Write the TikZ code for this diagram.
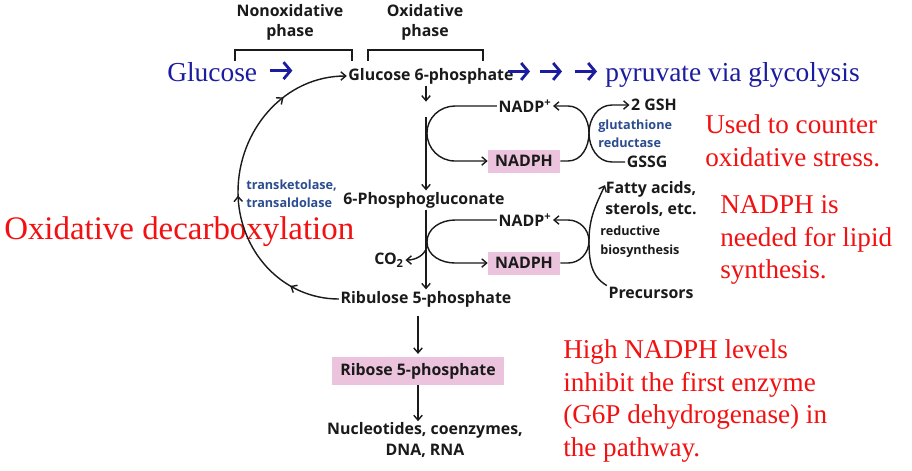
\documentclass[tikz,border=0pt]{standalone}
\usepackage{fontspec}
\setmainfont{Liberation Serif}
\newfontfamily\diagfont{Open Sans}
\usetikzlibrary{arrows.meta, positioning, decorations.markings}
\usepackage{xcolor}
\definecolor{pathblack}{HTML}{1A1A1A}
\definecolor{enzymeblue}{HTML}{2B4C8F}
\definecolor{glycoblue}{HTML}{1C1CA0}
\definecolor{notered}{HTML}{F21010}
\definecolor{boxpink}{HTML}{EBC3DC}

\begin{document}
\begin{tikzpicture}[
    x=0.025cm, y=-0.025cm,
    >={Straight Barb[length=3.5pt,width=6pt]},
    % text styles
    compound/.style={
        font=\diagfont\bfseries\fontsize{11.3}{14.3}\selectfont,
        text=pathblack,
        inner sep=1pt,
        align=center
    },
    cofactor/.style={
        compound,
        fill=boxpink,
        minimum width=1.8cm,
        minimum height=0.575cm
    },
    enzyme/.style={
        font=\diagfont\bfseries\fontsize{9}{12.8}\selectfont,
        text=enzymeblue,
        align=left,
        inner sep=0pt
    },
    note/.style={
        font=\fontsize{19.3}{23.2}\selectfont,
        text=notered,
        align=left,
        inner sep=0pt
    },
    glyco/.style={
        font=\fontsize{19.5}{23.5}\selectfont,
        text=glycoblue,
        inner sep=0pt
    },
    glyarrow/.style={
        draw=glycoblue,
        line width=2pt,
        -{Straight Barb[length=5pt,width=12pt,line width=2pt]}
    },
    flow/.style={draw=pathblack, line width=1pt, ->},
    bracket/.style={draw=pathblack, line width=1.1pt}
]
    \useasboundingbox[fill=white] (0,0) rectangle (912,470);

    % ==========================================
    % 1. PHASES AND ENTRY
    % ==========================================
    \node[compound] (nonox) at (290,22) {Nonoxidative\\phase};
    \node[compound] (oxid) at (425,22) {Oxidative\\phase};
    \draw[bracket] (235,61) -- (235,50) -- (352,50) -- (352,61);
    \draw[bracket] (368,61) -- (368,50) -- (483,50) -- (483,61);

    \node[glyco, anchor=base west] (glucose) at (167,81) {Glucose};
    \node[compound] (g6p) at (431,76) {Glucose 6-phosphate};
    \node[glyco, anchor=base west] (pyruv) at (605,81) {pyruvate via glycolysis};

    \draw[glyarrow] (glucose.east) ++(13,-1) -- ++(22,0);
    \draw[glyarrow] (pyruv.west) ++(-97,-3) -- ++(22,0);
    \draw[glyarrow] (pyruv.west) ++(-65,-3) -- ++(22,0);
    \draw[glyarrow] (pyruv.west) ++(-30,-3) -- ++(22,0);

    % ==========================================
    % 2. OXIDATIVE STEPS
    % ==========================================
    \node[compound] (nadpA) at (525,106) {NADP\textsuperscript{+}};
    \node[cofactor] (nadphA) at (524,161) {NADPH};
    \node[compound] (gsh) at (654,105) {2 GSH};
    \node[enzyme, anchor=west] (glured) at (598,134) {glutathione\\reductase};
    \node[compound] (gssg) at (647,162) {GSSG};

    \node[compound] (pgluc) at (424,200) {6-Phosphogluconate};
    \node[compound] (nadpB) at (525,220) {NADP\textsuperscript{+}};
    \node[cofactor] (nadphB) at (524,263) {NADPH};
    \node[compound] (co2) at (389,260) {CO\textsubscript{2}};
    \node[compound] (fatty) at (651,199) {Fatty acids,\\sterols, etc.};
    \node[compound, anchor=west, align=left, inner sep=0pt, font=\diagfont\bfseries\fontsize{9}{13.5}\selectfont] (redbio) at (600,242) {reductive\\biosynthesis};
    \node[compound] (prec) at (651,293) {Precursors};

    \node[compound] (rul5p) at (426,299) {Ribulose 5-phosphate};
    \node[cofactor, minimum width=4.275cm, minimum height=0.7cm] (r5p) at (418,371) {Ribose 5-phosphate};
    \node[compound] (nucl) at (425,440) {Nucleotides, coenzymes,\\DNA, RNA};

    \node[enzyme, anchor=west] (transk) at (246,194) {transketolase,\\transaldolase};

    % ==========================================
    % 3. NOTES
    % ==========================================
    \node[note, anchor=west, font=\fontsize{23.4}{28}\selectfont] (decarb) at (4,232) {Oxidative decarboxylation};
    \node[note, anchor=west] (stress) at (705,141) {Used to counter\\oxidative stress.};
    \node[note, anchor=west] (lipid) at (720,240) {NADPH is\\needed for lipid\\synthesis.};
    \node[note, anchor=west] (inhibit) at (563,401) {High NADPH levels\\inhibit the first enzyme\\(G6P dehydrogenase) in\\the pathway.};

    % ==========================================
    % FLUJOS
    % ==========================================
    % main column
    \coordinate (gap) at (426,117);
    \draw[flow] (g6p.south -| gap) -- ++(0,16);
    \draw[flow] (gap) -- (gap |- pgluc.north);
    \draw[flow] (pgluc.south -| gap) -- (gap |- rul5p.north);
    \draw[flow, shorten <=5pt, shorten >=2pt] (rul5p.south -| r5p.north) -- (r5p.north);
    \draw[flow] (r5p.south) -- (r5p.south |- nucl.north);

    % first NADP+/NADPH cycle
    \draw[flow] (nadpA.west) -- (455,106) to[out=180,in=90] (427,133) to[out=-90,in=180] (455,161) -- (nadphA.west);
    \draw[flow] (nadphA.east) -- (568,161) to[out=0,in=-90] (589,133) to[out=90,in=0] (568,106) -- (nadpA.east);
    \draw[flow] (gssg.west) -- (612,162) to[out=180,in=-90] (589,133) to[out=90,in=180] (612,105) -- (gsh.west);

    % second NADP+/NADPH cycle
    \draw[flow] (nadpB.west) -- (455,220) to[out=180,in=90] (427,242) to[out=-90,in=180] (455,263) -- (nadphB.west);
    \draw[flow] (427,247) to[out=-110,in=0] (co2.east);
    \draw[flow] (nadphB.east) -- (568,263) to[out=0,in=-90] (589,241) to[out=90,in=0] (568,220) -- (nadpB.east);
    \draw[flow] (prec.north west) to[out=150,in=-90] (589,241) to[out=90,in=-115] ([xshift=1pt,yshift=-3.5pt]fatty.north west);

    % nonoxidative return
    \draw[flow, postaction=decorate, decoration={markings,
        mark=at position 0.15 with {\arrow{>}},
        mark=at position 0.47 with {\arrow{>}},
        mark=at position 0.8 with {\arrow{>}}}]
        (rul5p.west) to[out=180,in=-90] (238,192) to[out=90,in=180] (g6p.west);

\end{tikzpicture}
\end{document}
